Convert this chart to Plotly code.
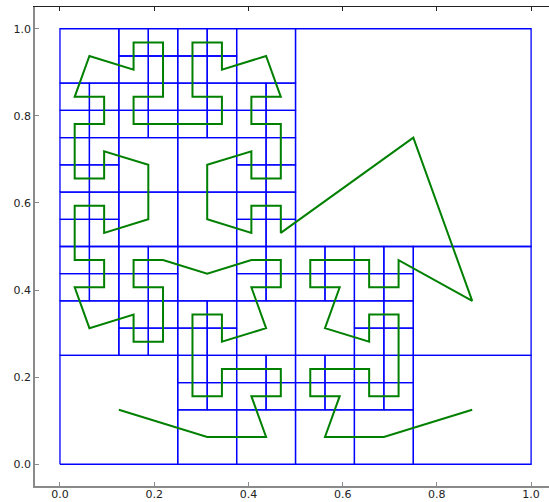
import plotly.graph_objects as go

# Quadtree leaves in the order the curve visits them.
# Units are 1/16 of the unit square: lower-left corner (x0, y0) and side length.
UNIT = 1 / 16
LEAF_X0 = [
    0, 4, 6, 6, 7, 7, 6, 5, 5, 4, 4, 4, 4, 5, 5, 6, 6, 7, 7, 6, 4,
    3, 2, 2, 3, 3, 3, 2, 2, 0, 0, 1, 1, 0,
    0, 0, 1, 1, 2, 2, 1, 1, 0, 0, 0, 1, 1, 0, 0,
    2, 2, 3, 3, 3, 2, 2, 3, 4, 5, 5, 4, 4, 4, 5, 5, 6,
    7, 6, 6, 7, 7, 7, 6, 6, 4, 4, 6, 6, 7, 7,
    8,
    12, 11, 11, 10, 10, 9, 8, 8, 9, 8, 10, 10, 11, 11,
    11, 11, 10, 10, 9, 8, 8, 9, 8, 10, 12,
]
LEAF_Y0 = [
    0, 0, 0, 2, 2, 3, 3, 3, 2, 2, 3, 4, 5, 5, 4, 4, 6, 6, 7, 7, 6,
    7, 7, 6, 6, 5, 4, 4, 5, 4, 6, 6, 7, 7,
    8, 9, 9, 8, 8, 10, 11, 10, 10, 11, 12, 12, 13, 13, 14,
    14, 15, 15, 14, 13, 13, 12, 12, 12, 12, 13, 13, 14, 15, 15, 14, 14,
    13, 13, 12, 12, 11, 10, 10, 11, 10, 8, 8, 9, 9, 8,
    8,
    4, 7, 6, 6, 7, 7, 7, 6, 6, 4, 4, 5, 5, 4,
    3, 2, 2, 3, 3, 3, 2, 2, 0, 0, 0,
]
LEAF_SIZE = [
    4, 2, 2, 1, 1, 1, 1, 1, 1, 1, 1, 1, 1, 1, 1, 2, 1, 1, 1, 1, 2,
    1, 1, 1, 1, 1, 1, 1, 1, 2, 1, 1, 1, 1,
    1, 1, 1, 1, 2, 2, 1, 1, 1, 1, 1, 1, 1, 1, 2,
    1, 1, 1, 1, 1, 1, 1, 1, 1, 1, 1, 1, 1, 1, 1, 1, 2,
    1, 1, 1, 1, 1, 1, 1, 1, 2, 2, 1, 1, 1, 1,
    8,
    4, 1, 1, 1, 1, 1, 1, 1, 1, 2, 1, 1, 1, 1,
    1, 1, 1, 1, 1, 1, 1, 1, 2, 2, 4,
]

TICKS = [0.0, 0.2, 0.4, 0.6, 0.8, 1.0]
BLUE = "#0000ff"
GREEN = "#008000"
AXIS_GRAY = "#8a8a8a"

box_x, box_y = [], []
path_x, path_y = [], []
for x0, y0, s in zip(LEAF_X0, LEAF_Y0, LEAF_SIZE):
    a, b, w = x0 * UNIT, y0 * UNIT, s * UNIT
    box_x += [a, a + w, a + w, a, a, None]
    box_y += [b, b, b + w, b + w, b, None]
    path_x.append(a + w / 2)
    path_y.append(b + w / 2)

fig = go.Figure()
fig.add_trace(go.Scatter(x=box_x, y=box_y, mode="lines",
                         line=dict(color=BLUE, width=1.3), hoverinfo="skip"))
fig.add_trace(go.Scatter(x=path_x, y=path_y, mode="lines",
                         line=dict(color=GREEN, width=2)))
# invisible trace so the top frame axis is drawn
fig.add_trace(go.Scatter(x=[0], y=[0], xaxis="x2", mode="markers",
                         marker=dict(opacity=0), hoverinfo="skip"))

fig.update_layout(
    width=549,
    height=502,
    margin=dict(l=35, r=0, t=7, b=16),
    showlegend=False,
    paper_bgcolor="white",
    plot_bgcolor="white",
    font=dict(family="DejaVu Sans", size=11, color="#222222"),
    xaxis=dict(
        range=[-0.053, 1.038], tickvals=TICKS, tickformat=".1f",
        showgrid=False, zeroline=False, showline=True, linecolor=AXIS_GRAY,
        linewidth=1.5, ticks="inside", ticklen=4, tickcolor=AXIS_GRAY,
        ticklabelstandoff=-3, automargin=False,
    ),
    xaxis2=dict(
        overlaying="x", side="top", matches="x", tickvals=TICKS,
        showticklabels=False, showgrid=False, zeroline=False, showline=True,
        linecolor="#222222", linewidth=1, ticks="inside", ticklen=4,
        tickcolor="#222222", automargin=False,
    ),
    yaxis=dict(
        range=[-0.05, 1.05], tickvals=TICKS, tickformat=".1f",
        showgrid=False, zeroline=False, showline=True, linecolor=AXIS_GRAY,
        linewidth=1.5, ticks="inside", ticklen=4, tickcolor=AXIS_GRAY,
        automargin=False,
    ),
)

fig.write_html(
    "out.html",
    config={"displayModeBar": False},
    post_script="document.body.style.margin = '0';",
)
